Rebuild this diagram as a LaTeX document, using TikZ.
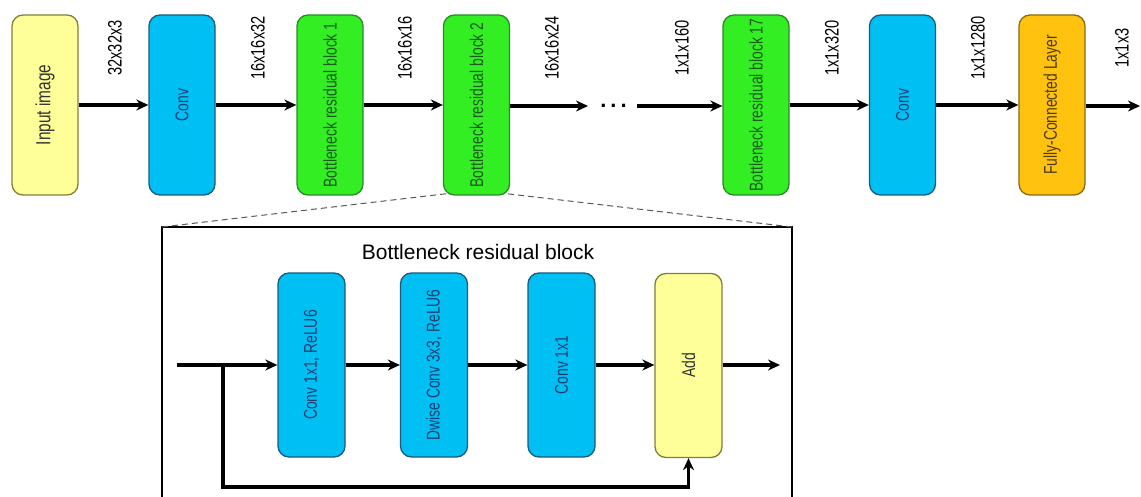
\documentclass[tikz,border=0pt]{standalone}
\usepackage{fontspec}
\setmainfont{Liberation Sans}
\newfontfamily\narrowfont[FakeStretch=0.75]{Liberation Sans}
\usetikzlibrary{arrows.meta}
\definecolor{yelfill}{HTML}{FFFF99}
\definecolor{yeldraw}{HTML}{7F7F3A}
\definecolor{cyfill}{HTML}{00BFF2}
\definecolor{cydraw}{HTML}{1A5A80}
\definecolor{grfill}{HTML}{33EE22}
\definecolor{grdraw}{HTML}{2A8A2A}
\definecolor{orfill}{HTML}{FFC20E}
\definecolor{ordraw}{HTML}{8A6A10}
\definecolor{cytext}{HTML}{1B3F73}
\definecolor{grtext}{HTML}{1D5A1D}
\definecolor{yeltext}{HTML}{333333}
\definecolor{ortext}{HTML}{4D3B0A}
\tikzset{
  box/.style={draw, rounded corners=11pt, line width=1.3pt, minimum width=66pt, minimum height=180pt, inner sep=0pt},
  ibox/.style={box, minimum height=184pt, minimum width=67pt},
  yel/.style={fill=yelfill, draw=yeldraw},
  cy/.style={fill=cyfill, draw=cydraw},
  gr/.style={fill=grfill, draw=grdraw},
  org/.style={fill=orfill, draw=ordraw},
  btxt/.style={rotate=90, font=\narrowfont\fontsize{18.5}{20}\selectfont, inner sep=0pt},
  dimlabel/.style={rotate=90, font=\narrowfont\fontsize{19.5}{20}\selectfont, inner sep=0pt},
  arr/.style={line width=3.6pt, -{Stealth[length=12pt,width=11pt]}},
  zoomline/.style={line width=1pt, draw=black!65, dash pattern=on 6pt off 4pt},
}
\begin{document}
\begin{tikzpicture}[x=1pt,y=-1pt]
\useasboundingbox (0,0) rectangle (1141,497);
% top row
\node[box,yel] (in) at (45,105) {};
\node[btxt,text=yeltext,font=\narrowfont\fontsize{20.5}{22}\selectfont] (in-t) at (in.center) {Input image};
\node[box,cy] (conv) at (182,105) {};
\node[btxt,text=cytext] (conv-t) at (conv.center) {Conv};
\node[box,gr] (b1) at (330,105) {};
\node[btxt,text=grtext] (b1-t) at (b1.center) {Bottleneck residual block 1};
\node[box,gr] (b2) at (476.5,105) {};
\node[btxt,text=grtext] (b2-t) at (b2.center) {Bottleneck residual block 2};
\node[box,gr] (b17) at (756,105) {};
\node[btxt,text=grtext] (b17-t) at (b17.center) {Bottleneck residual block 17};
\node[box,cy] (conv2) at (902.5,105) {};
\node[btxt,text=cytext] (conv2-t) at (conv2.center) {Conv};
\node[box,org] (fc) at (1052,105) {};
\node[btxt,text=ortext] (fc-t) at (fc.center) {Fully-Connected Layer};

\coordinate (b2out) at (588,106);
\node[font=\bfseries\fontsize{22}{22}\selectfont, inner sep=0pt] (dots) at (613.5,106) {.\hspace{4pt}.\hspace{4pt}.};
\coordinate (dotsout) at (637,106);
\coordinate (fcout) at (1140,106);

\draw[arr] (in) -- (conv);
\draw[arr] (conv) -- (b1);
\draw[arr] (b1) -- (b2);
\draw[arr] (b2.east |- b2out) -- (b2out);
\draw[arr] (dotsout) -- (b17.west |- dotsout);
\draw[arr] (b17) -- (conv2);
\draw[arr] (conv2) -- (fc);
\draw[arr] (fc.east |- fcout) -- (fcout);

% dimension labels
\node[dimlabel] (l1) at (115,48) {32x32x3};
\node[dimlabel] (l2) at (258,48) {16x16x32};
\node[dimlabel] (l3) at (405,48) {16x16x16};
\node[dimlabel] (l4) at (552,48) {16x16x24};
\node[dimlabel] (l5) at (682,48) {1x1x160};
\node[dimlabel] (l6) at (832,48) {1x1x320};
\node[dimlabel] (l7) at (978,48) {1x1x1280};
\node[dimlabel] (l8) at (1122,48) {1x1x3};

% zoom frame
\coordinate (fTL) at (162,227);
\coordinate (fTR) at (792,227);
\coordinate (fBL) at (162,499);
\coordinate (fBR) at (792,499);
\draw[line width=1.8pt] (fBL) -- (fTL) -- (fTR) -- (fBR);
\draw[zoomline] (fTL) -- ([xshift=4pt,yshift=2pt]b2.south west);
\draw[zoomline] (fTR) -- ([xshift=-4pt,yshift=2pt]b2.south east);
\node[font=\fontsize{21}{24}\selectfont, inner sep=0pt] (title) at (478,252) {Bottleneck residual block};

% inner blocks
\node[ibox,cy] (c1) at (311.5,365) {};
\node[btxt,text=cytext] (c1-t) at (c1.center) {Conv 1x1, ReLU6};
\node[ibox,cy] (dw) at (434,365) {};
\node[btxt,text=cytext] (dw-t) at (dw.center) {Dwise Conv 3x3, ReLU6};
\node[ibox,cy] (c3) at (561.5,365) {};
\node[btxt,text=cytext] (c3-t) at (c3.center) {Conv 1x1};
\node[ibox,yel] (add) at (688.5,365.5) {};
\node[btxt,text=yeltext] (add-t) at (add.center) {Add};

\coordinate (inL) at (177,365);
\coordinate (br) at (223,365);
\coordinate (br2) at (223,487);
\coordinate (outR) at (780,365);

\draw[arr] (inL) -- (c1);
\draw[arr] (c1) -- (dw);
\draw[arr] (dw) -- (c3);
\draw[arr] (c3.east |- inL) -- (add.west |- inL);
\draw[arr] (add.east |- inL) -- (outR);
\draw[arr] (br) -- (br2) -- (br2 -| add.south) -- (add.south);
\end{tikzpicture}
\end{document}
